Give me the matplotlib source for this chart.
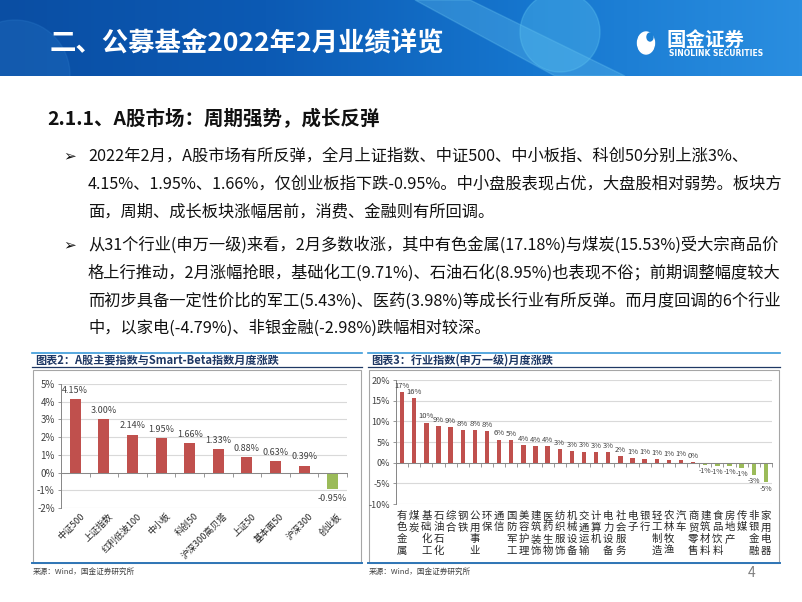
import numpy as np
import matplotlib.pyplot as plt
from matplotlib.patches import Rectangle, Circle, Polygon, Ellipse
from matplotlib.colors import LinearSegmentedColormap

plt.rcParams['font.family'] = ['Noto Sans CJK SC', 'DejaVu Sans']

# ---- data ----
idx_names = ['中证500', '上证指数', '红利低波100', '中小板', '科创50',
             '沪深300高贝塔', '上证50', '基本面50', '沪深300', '创业板']
idx_vals = [4.15, 3.00, 2.14, 1.95, 1.66, 1.33, 0.88, 0.63, 0.39, -0.95]

ind_names = ['有色金属', '煤炭', '基础化工', '石油石化', '综合', '钢铁', '公用事业',
             '环保', '通信', '国防军工', '美容护理', '建筑装饰', '医药生物', '纺织服饰',
             '机械设备', '交通运输', '计算机', '电力设备', '社会服务', '电子', '银行',
             '轻工制造', '农林牧渔', '汽车', '商贸零售', '建筑材料', '食品饮料',
             '房地产', '传媒', '非银金融', '家用电器']
ind_vals = [17.18, 15.53, 9.71, 8.95, 8.6, 7.9, 7.9, 7.7, 5.6, 5.43, 4.3, 4.0,
            3.98, 3.3, 2.9, 2.7, 2.6, 2.55, 1.55, 1.2, 1.0, 0.9, 0.7, 0.55, 0.2,
            -0.6, -0.7, -0.8, -1.3, -2.98, -4.79]

title = '二、公募基金2022年2月业绩详览'
heading = '2.1.1、A股市场：周期强势，成长反弹'
para1 = ['2022年2月，A股市场有所反弹，全月上证指数、中证500、中小板指、科创50分别上涨3%、',
         '4.15%、1.95%、1.66%，仅创业板指下跌-0.95%。中小盘股表现占优，大盘股相对弱势。板块方',
         '面，周期、成长板块涨幅居前，消费、金融则有所回调。']
para2 = ['从31个行业(申万一级)来看，2月多数收涨，其中有色金属(17.18%)与煤炭(15.53%)受大宗商品价',
         '格上行推动，2月涨幅抢眼，基础化工(9.71%)、石油石化(8.95%)也表现不俗；前期调整幅度较大',
         '而初步具备一定性价比的军工(5.43%)、医药(3.98%)等成长行业有所反弹。而月度回调的6个行业',
         '中，以家电(-4.79%)、非银金融(-2.98%)跌幅相对较深。']

RED = '#C0504D'
GREEN = '#9BBB59'
W, H = 802, 602

fig = plt.figure(figsize=(W / 100, H / 100), dpi=100)
bg = fig.add_axes([0, 0, 1, 1])
bg.axis('off')

# header band
grad = np.linspace(0, 1, 256)[None, :]
cmap = LinearSegmentedColormap.from_list('hdr', ['#0a4ea3', '#0c5ab4', '#1677cf', '#2a8ee0'])
bg.imshow(grad, extent=[0, W, 76, 0], cmap=cmap, aspect='auto', zorder=0)
clip = Rectangle((0, 0), W, 76, transform=bg.transData, facecolor='none', edgecolor='none')
bg.add_patch(clip)
for p in [Circle((15, 75), 55, color='#2f80cf', alpha=0.25),
          Polygon([(415, 0), (470, 0), (625, 76), (555, 76)], color='#6cc8f3', alpha=0.3),
          Circle((560, 32), 40, color='#5cc3f0', alpha=0.35)]:
    bg.add_patch(p)
    p.set_clip_path(clip)
bg.set_xlim(0, W)
bg.set_ylim(H, 0)

bg.text(50, 44, title, color='white', fontsize=19, fontweight='bold', va='center')
bg.add_patch(Ellipse((646, 43), 17, 22, color='white'))
bg.add_patch(Ellipse((650, 37), 6, 8, color='#1a7fd4'))
bg.text(666, 40, '国金证券', color='white', fontsize=14, fontweight='bold', va='center')
bg.text(669, 53, 'SINOLINK SECURITIES', color='white', fontsize=5.5, fontweight='bold',
        va='center', family='DejaVu Sans')

# body text
bg.text(47, 119, heading, fontsize=14, fontweight='bold', color='#111111', va='center')
for ys, lines in [([156, 184, 212], para1), ([245, 273, 301, 328], para2)]:
    bg.text(63, ys[0], '➢', fontsize=11, family='DejaVu Sans', va='center', color='#111111')
    for y, s in zip(ys, lines):
        bg.text(88, y, s, fontsize=11.7, va='center', color='#111111')


def chart_box(x0, x1, label):
    bg.plot([x0, x1], [353, 353], color='#3A9AD9', lw=1.2)
    bg.text(x0 + 3, 360, label, fontsize=8, fontweight='bold', color='#1F3864', va='center')
    bg.plot([x0, x1], [367, 367], color='#1F3864', lw=0.9)
    bg.add_patch(Rectangle((x0 + 1, 370), x1 - x0 - 2, 193, facecolor='white',
                           edgecolor='#A6A6A6', lw=0.8))
    bg.plot([x0, x1], [563, 563], color='#2E75B6', lw=1.4)
    bg.text(x0 + 1, 572, '来源：Wind，国金证券研究所', fontsize=5.5, color='#404040', va='center')


chart_box(32, 362, '图表2：A股主要指数与Smart-Beta指数月度涨跌')
chart_box(368, 780, '图表3：行业指数(申万一级)月度涨跌')
bg.text(748, 573, '4', fontsize=10, color='#7f7f7f', va='center')


def style_axis(ax, n, ylim, step, tick_fs):
    ax.set_xlim(-0.5, n - 0.5)
    ax.set_ylim(*ylim)
    ax.set_yticks(np.arange(ylim[0], ylim[1] + step / 2, step))
    ax.set_yticklabels([f'{v:.0f}%' for v in ax.get_yticks()], fontsize=tick_fs, color='#404040')
    ax.grid(axis='y', color='#D9D9D9', lw=0.8)
    ax.set_axisbelow(True)
    for s in ['top', 'right']:
        ax.spines[s].set_visible(False)
    ax.spines['left'].set_color('#868686')
    ax.spines['left'].set_linewidth(0.7)
    ax.spines['bottom'].set_position(('data', 0))
    ax.spines['bottom'].set_color('#868686')
    ax.spines['bottom'].set_linewidth(0.7)
    ax.set_xticks(np.arange(n))
    ax.set_xticklabels([])
    ax.tick_params(axis='x', which='major', length=0)
    ax.set_xticks(np.arange(-0.5, n), minor=True)
    ax.tick_params(axis='x', which='minor', length=3, color='#868686', width=0.6)
    ax.tick_params(axis='y', length=2.5, color='#868686', width=0.6, pad=2)
    ax.patch.set_alpha(0)


# chart 1
ax1 = fig.add_axes([61 / W, (H - 508) / H, (347 - 61) / W, (508 - 384) / H])
x1 = np.arange(len(idx_vals))
ax1.bar(x1, idx_vals, width=0.38, color=[RED if v >= 0 else GREEN for v in idx_vals], zorder=2)
style_axis(ax1, len(idx_vals), (-2, 5), 1, 7)
for i, v in enumerate(idx_vals):
    if v >= 0:
        ax1.annotate(f'{v:.2f}%', (i, v), xytext=(0, 3), textcoords='offset points',
                     ha='center', va='bottom', fontsize=6.5, color='#404040')
    else:
        ax1.annotate(f'{v:.2f}%', (i, v), xytext=(0, -3), textcoords='offset points',
                     ha='center', va='top', fontsize=6.5, color='#404040')
tr1 = ax1.get_xaxis_transform()
for i, name in enumerate(idx_names):
    ax1.text(i + 0.15, -0.03, name, transform=tr1, rotation=45, ha='right', va='top',
             rotation_mode='anchor', fontsize=6.5, color='#262626')

# chart 2
ax2 = fig.add_axes([396 / W, (H - 504) / H, (772 - 396) / W, (504 - 380) / H])
x2 = np.arange(len(ind_vals))
ax2.bar(x2, ind_vals, width=0.36, color=[RED if v >= 0 else GREEN for v in ind_vals], zorder=2)
style_axis(ax2, len(ind_vals), (-10, 20), 5, 6.5)
for i, v in enumerate(ind_vals):
    lab = f'{round(v):.0f}%'
    if v >= 0:
        ax2.annotate(lab, (i, v), xytext=(0, 1.5), textcoords='offset points',
                     ha='center', va='bottom', fontsize=5.5, color='#404040')
    else:
        ax2.annotate(lab, (i, v), xytext=(0, -1.5), textcoords='offset points',
                     ha='center', va='top', fontsize=5, color='#404040')
tr2 = ax2.get_xaxis_transform()
for i, name in enumerate(ind_names):
    ax2.text(i, -0.055, '\n'.join(name), transform=tr2, ha='center', va='top',
             fontsize=7.5, color='#262626')

fig.savefig('out.png', dpi=100)
